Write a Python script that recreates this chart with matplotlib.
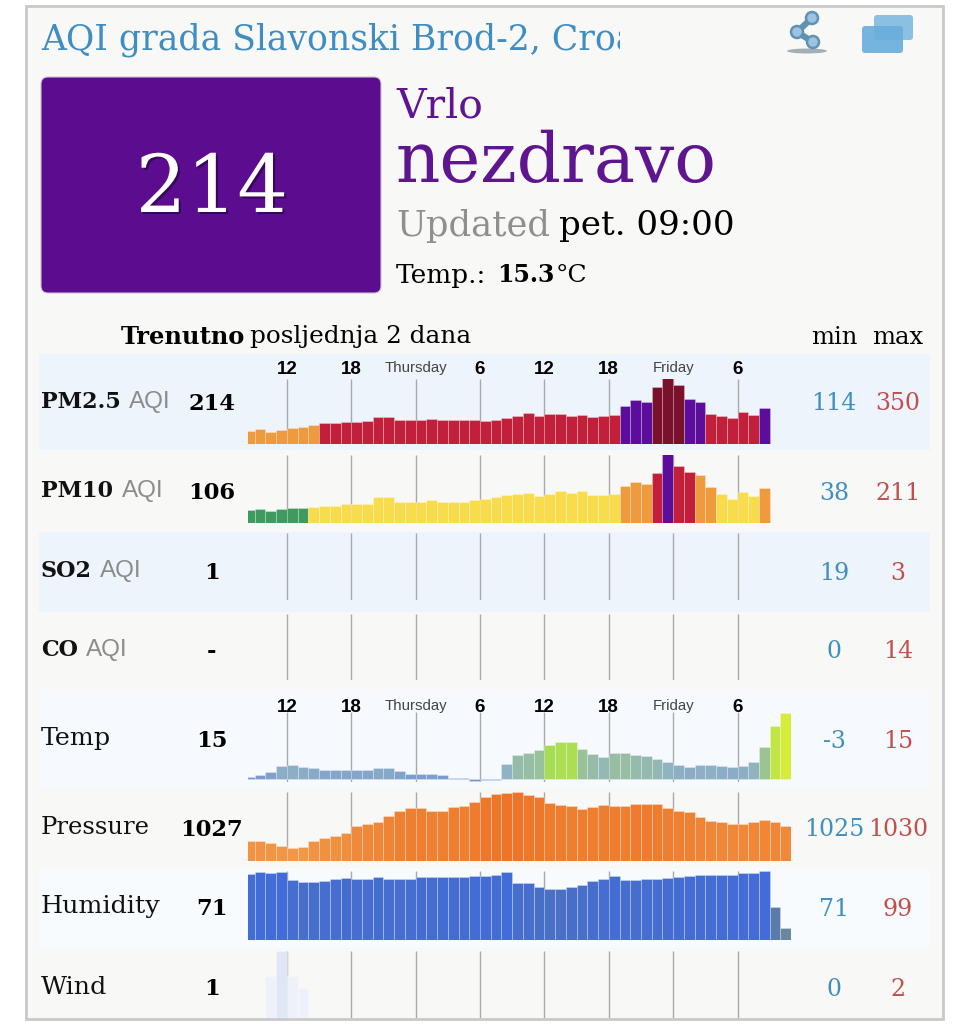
import matplotlib
matplotlib.use('Agg')
import matplotlib.pyplot as plt
import matplotlib.patches as patches
import matplotlib.patheffects as pe
from matplotlib.colors import LinearSegmentedColormap
import numpy as np

W, H = 969, 1024
SERIF = 'DejaVu Serif'
SANS = 'Liberation Sans'

# bar heights (relative units per row), oldest hour first
pm25 = [38,46,36,42,49,52,56,62,64,67,67,68,81,82,72,72,72,76,72,71,71,71,69,73,77,84,92,84,
        89,89,84,88,80,85,87,115,133,126,171,203,178,136,125,91,85,79,96,86,107]
pm10 = [38,42,36,41,44,45,48,50,52,56,58,56,77,77,63,62,63,68,62,62,63,68,71,79,83,86,90,82,
        86,96,90,96,84,84,87,112,124,118,151,207,172,154,143,109,86,73,94,80,104]
temp = [5,13,21,38,41,36,34,28,27,27,27,27,33,33,24,15,16,16,13,4,2,-6,-4,-2,45,71,78,87,
        101,110,111,89,74,65,78,78,71,68,61,50,41,37,42,42,38,36,40,50,96,158,198]
pressure = [61,61,55,45,38,41,61,68,75,85,105,111,118,135,151,158,158,151,151,161,164,178,191,200,204,207,197,191,
            173,168,164,156,161,168,166,164,170,170,170,160,151,147,131,121,117,111,111,117,124,117,105]
humidity = [198,203,200,203,179,174,175,178,182,185,183,182,188,182,182,183,190,188,188,189,188,192,193,195,204,172,170,158,
            152,152,158,164,178,182,192,180,180,183,183,186,188,192,194,194,194,196,200,200,206,98,37]
wind = [0,0,125,202,125,90] + [0] * 45

hour_ticks = [3.5, 9.5, 15.5, 21.5, 27.5, 33.5, 39.5, 45.5]
tick_labels = ['12', '18', 'Thursday', '6', '12', '18', 'Friday', '6']

row_names = ['PM2.5', 'PM10', 'SO2', 'CO', 'Temp', 'Pressure', 'Humidity', 'Wind']
row_now = ['214', '106', '1', '-', '15', '1027', '71', '1']
row_min = ['114', '38', '19', '0', '-3', '1025', '71', '0']
row_max = ['350', '211', '3', '14', '15', '1030', '99', '2']

# band top/bottom, plot top/baseline, text y
rows = [(354, 450, 379, 444, 402), (450, 532, 455, 523, 491), (532, 612, 533, 600, 571), (612, 690, 614, 680, 650),
        (690, 787, 712, 779, 739), (787, 868, 792, 861, 828), (868, 948, 871, 940, 907), (948, 1018, 951, 1018, 987)]
BLUEBAND = '#eef4fc'

fig = plt.figure(figsize=(W / 100, H / 100), dpi=100, facecolor='white')
ax = fig.add_axes([0, 0, 1, 1])
ax.set_xlim(0, W); ax.set_ylim(H, 0); ax.axis('off')

# === FRAME ===
ax.add_patch(patches.Rectangle((26, 6), 917, 1013, fc='#f8f9f7', ec='#c9c9c9', lw=2))
for i, r in enumerate(rows):
    c = BLUEBAND if i % 2 == 0 else '#f8f9f7'
    if i == 4: c = '#f6fafe'
    if i == 6: c = '#f7fbfe'
    ax.add_patch(patches.Rectangle((39, r[0]), 891, r[1] - r[0], fc=c, ec='none'))

# === HEADER ===
title = ax.text(41, 40, 'AQI grada Slavonski Brod-2, Croatia', color='#3f8dc2', fontsize=24.9, family=SERIF, va='center', ha='left', clip_on=True)
title.set_clip_path(patches.Rectangle((30, 10), 590, 60, transform=ax.transData))

ax.add_patch(patches.FancyBboxPatch((46, 82), 330, 206, boxstyle='round,pad=5,rounding_size=7', fc='#5c0d8f', ec='#c9c4cf', lw=0.8))
big = ax.text(212, 190, '214', color='white', fontsize=57.5, family=SERIF, ha='center', va='center')
big.set_path_effects([pe.withSimplePatchShadow(offset=(1.5, -1.5), shadow_rgbFace='#20003a', alpha=0.6)])
ax.text(396, 106, 'Vrlo', color='#5f1590', fontsize=29.5, family=SERIF, va='center')
ax.text(396, 163, 'nezdravo', color='#5f1590', fontsize=49.8, family=SERIF, va='center')
ax.text(396, 226, 'Updated', color='#8f8f8f', fontsize=25.5, family=SERIF, va='center')
ax.text(559, 226, 'pet. 09:00', color='black', fontsize=24.5, family=SERIF, va='center')
ax.text(396, 275, 'Temp.:', color='black', fontsize=19, family=SERIF, va='center')
ax.text(497, 275, '15.3', color='black', fontsize=17, family=SERIF, weight='bold', va='center')
ax.text(556, 275, '°C', color='black', fontsize=18, family=SERIF, va='center')

# icons
ax.add_patch(patches.Ellipse((807, 51), 40, 5, fc='#8a969c', ec='none', alpha=0.75))
ax.plot([812, 797, 813], [18, 32, 42], color='#5f93b5', lw=4.5, zorder=3)
for cx, cy in [(812, 18), (797, 32), (813, 42)]:
    ax.add_patch(patches.Circle((cx, cy), 6, fc='#9cc4e0', ec='#5f93b5', lw=1.8, zorder=4))
ax.add_patch(patches.FancyBboxPatch((876, 17), 35, 21, boxstyle='round,pad=2,rounding_size=3', fc='#8cc0e2', ec='none'))
ax.add_patch(patches.FancyBboxPatch((864, 28), 37, 23, boxstyle='round,pad=2,rounding_size=3', fc='#6aaedc', ec='none', alpha=0.92))

ax.text(121, 337, 'Trenutno', fontsize=17.4, family=SERIF, weight='bold', va='center')
ax.text(250, 337, 'posljednja 2 dana', fontsize=17.8, family=SERIF, va='center')
ax.text(834, 337, 'min', fontsize=17.5, family=SERIF, va='center', ha='center')
ax.text(898, 337, 'max', fontsize=17.5, family=SERIF, va='center', ha='center')

# === COLOURS ===
def aqi_colors(vals, limits, cols):
    return [cols[i] for i in np.digitize(vals, limits)]

pm25_cols = aqi_colors(pm25, [60, 100, 150], ['#f09a3e', '#c2203a', '#5c0d9c', '#7a1029'])
pm10_cols = aqi_colors(pm10, [46, 100, 148, 190], ['#3f9a5f', '#f9dc4c', '#f09a3e', '#c2203a', '#5c0d9c'])
temp_cm = LinearSegmentedColormap.from_list('t', ['#6f8fd6', '#8fb2c4', '#9bc492', '#a6dc55', '#d6ec3a'])
press_cm = LinearSegmentedColormap.from_list('p', ['#f29f4d', '#ee7527'])
hum_cm = LinearSegmentedColormap.from_list('h', ['#6b8a9e', '#5d7da8', '#4a70c4', '#426cd8'])
temp_cols = [temp_cm(np.clip((v + 6) / 204, 0, 1) if v < 100 else min(0.75 + (v - 100) / 400, 1)) for v in temp]
press_cols = [press_cm(v / 207) for v in pressure]
hum_cols = [hum_cm(((v - 30) / 176)) for v in humidity]
wind_cols = ['#e0e6f6' if v > 150 else '#eef1fa' for v in wind]

series = [(pm25, pm25_cols), (pm10, pm10_cols), None, None, (temp, temp_cols),
          (pressure, press_cols), (humidity, hum_cols), (wind, wind_cols)]

# === ROWS ===
for i, r in enumerate(rows):
    top, base = r[2], r[3]
    low = 2.5 if i == 4 else 0   # temp dips under zero
    bottom = base + low
    a = fig.add_axes([247.5 / W, 1 - bottom / H, (791 - 247.5) / W, (bottom - top) / H])
    a.patch.set_alpha(0)
    a.set_xlim(-0.17, 50.48)
    a.set_ylim(-low * 3, (base - top) * 3)
    a.axis('off')
    a.vlines(hour_ticks, -low * 3, (base - top) * 3, color='#a9a9a9', lw=1, zorder=1)
    if series[i] is not None:
        vals, cols = series[i]
        a.bar(np.arange(len(vals)), vals, width=1.0, color=cols, edgecolor=(1, 1, 1, 0.3), linewidth=0.6, zorder=2)

    y = r[4]
    name_w = 'bold' if i < 4 else 'normal'
    name_s = 16 if i < 4 else 18.3
    if row_names[i] == 'Pressure': name_s = 17.5
    ax.text(41, y, row_names[i], fontsize=name_s, family=SERIF, weight=name_w, va='center', color='#111111')
    if i < 4:
        aqi_x = [129, 122, 100, 86][i]
        ax.text(aqi_x, y, 'AQI', fontsize=17.5, family=SANS, color='#8c8c8c', va='center')
    ax.text(212, y + 2, row_now[i], fontsize=16.3, family=SERIF, weight='bold', ha='center', va='center')
    ax.text(834, y + 2, row_min[i], fontsize=17, family=SERIF, color='#3f8fc0', ha='center', va='center')
    ax.text(898, y + 2, row_max[i], fontsize=17, family=SERIF, color='#c0504d', ha='center', va='center')

# hour labels only on the AQI and weather blocks
for ly in (370, 708):
    for h, lab in zip(hour_ticks, tick_labels):
        px = 254.7 + 10.73 * (h - 0.5)
        if lab in ('Thursday', 'Friday'):
            ax.text(px, ly - 2, lab, fontsize=10.8, family=SANS, color='#444444', ha='center', va='center')
        else:
            ax.text(px, ly, lab, fontsize=13.5, family=SANS, weight='bold', color='black', ha='center', va='center')

fig.savefig('out.png', dpi=100, facecolor='white')
